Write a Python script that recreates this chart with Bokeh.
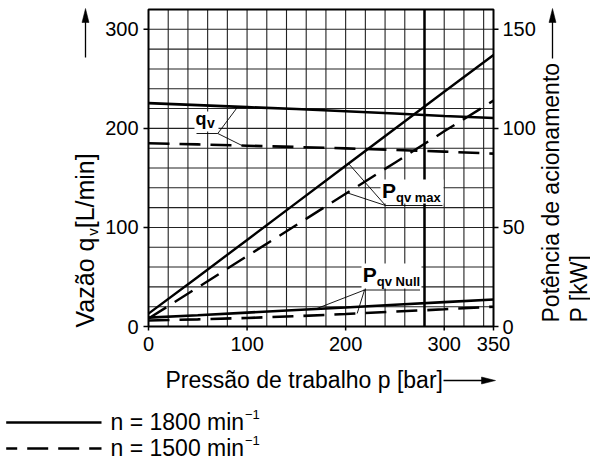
import math
import numpy as np
from bokeh.plotting import figure
from bokeh.models import Range1d
from bokeh.core.properties import value
from bokeh.embed import file_html
from bokeh.resources import INLINE

# Working pressure p [bar]
pressure = [0, 50, 100, 150, 200, 250, 300, 350]
# Flow q_v [L/min] at n = 1800 and n = 1500 min^-1
qv_1800 = [225.5, 223.5, 221.5, 219.5, 217.3, 215.0, 212.5, 210.4]
qv_1500 = [185.0, 183.8, 182.5, 181.2, 179.8, 178.3, 176.5, 174.5]
# Drive power at maximum displacement [kW]
pmax_1800 = [6.5, 25.0, 43.7, 62.4, 81.1, 99.8, 118.5, 137.0]
pmax_1500 = [4.0, 19.7, 35.5, 51.2, 67.0, 82.7, 98.5, 114.0]
# Drive power at zero displacement [kW]
pnull_1800 = [4.5, 5.7, 7.0, 8.3, 9.6, 11.0, 12.3, 13.6]
pnull_1500 = [3.0, 3.6, 4.3, 5.2, 6.3, 7.5, 8.7, 10.0]

pressure_ticks = [0, 100, 200, 300, 350]
flow_ticks = [0, 100, 200, 300]
power_ticks = [0, 50, 100, 150]
marked_pressure = 280

P_MAX, FLOW_MAX, POWER_MAX = 350, 320, 160
FONT = "Liberation Sans"
DASH = "21 10"

# chart frame placement on the 590 x 459 canvas
FL, FR, FT, FB = 148, 493, 9, 326
W, H = 590, 459


def bx(px):
    return (px - FL) * P_MAX / (FR - FL)


def by(py):
    return (FB - py) * FLOW_MAX / (FB - FT)


kw_to_flow = FLOW_MAX / POWER_MAX

# the drawing area spans the whole canvas; the scales put 0..350 bar and
# 0..320 L/min (0..160 kW) onto the chart frame
p = figure(width=W, height=H, output_backend="svg", toolbar_location=None,
           x_range=Range1d(bx(0), bx(W)), y_range=Range1d(by(H), by(0)),
           x_axis_type=None, y_axis_type=None, min_border=0)
p.extra_y_ranges = {"power": Range1d(by(H) / kw_to_flow, by(0) / kw_to_flow)}
p.outline_line_color = None
p.background_fill_color = "white"
p.border_fill_color = "white"
p.grid.visible = False

MID = 0.35  # distance from baseline to the middle of the capitals, in em


def text(s, px, py, size, bold=False, angle=0.0):
    """Text starting at (px, py), where py (or px for upright text) is the baseline."""
    if angle:
        ax, ay = px - MID * size, py
    else:
        ax, ay = px, py - MID * size
    p.text(x=[bx(ax)], y=[by(ay)], text=[s], text_font=value(FONT),
           text_font_size=value(f"{size}px"),
           text_font_style=value("bold" if bold else "normal"), text_color="black",
           angle=angle, text_align=value("left"), text_baseline=value("middle"))


# grid: every 20 bar and every 20 L/min
grid_x = list(range(20, P_MAX, 20))
grid_y = list(range(20, FLOW_MAX, 20))
p.segment(grid_x, [0] * len(grid_x), grid_x, [FLOW_MAX] * len(grid_x),
          line_color="#222222", line_width=1.1)
p.segment([0] * len(grid_y), grid_y, [P_MAX] * len(grid_y), grid_y,
          line_color="#222222", line_width=1.1)
p.segment([marked_pressure], [0], [marked_pressure], [FLOW_MAX], line_color="black", line_width=2.5)

# white backing behind the curve labels
box_l, box_r, box_t, box_b = [194, 380, 361], [218, 443, 421], [111, 179, 263], [131, 203, 288]
p.quad(left=[bx(v) for v in box_l], right=[bx(v) for v in box_r],
       top=[by(v) for v in box_t], bottom=[by(v) for v in box_b],
       fill_color="white", line_color=None)

# characteristic curves
p.line(pressure, qv_1800, line_color="black", line_width=2.6)
p.line(pressure, qv_1500, line_color="black", line_width=2.6, line_dash=DASH)
p.line(pressure, pmax_1800, line_color="black", line_width=2.4, y_range_name="power")
p.line(pressure, pmax_1500, line_color="black", line_width=2.4, line_dash=DASH, y_range_name="power")
p.line(pressure, pnull_1800, line_color="black", line_width=2.6, y_range_name="power")
p.line(pressure, pnull_1500, line_color="black", line_width=2.6, line_dash=DASH, y_range_name="power")

# leader lines and underlines of the curve labels
lead_x0, lead_y0, lead_x1, lead_y1 = [], [], [], []


def leader(px0, py0, x_val, curve, scale=1.0):
    lead_x0.append(bx(px0))
    lead_y0.append(by(py0))
    lead_x1.append(x_val)
    lead_y1.append(float(np.interp(x_val, pressure, curve)) * scale)


def underline(px0, px1, py):
    lead_x0.append(bx(px0))
    lead_y0.append(by(py))
    lead_x1.append(bx(px1))
    lead_y1.append(by(py))


underline(196, 217.3, 133)
leader(217.3, 133, 90.6, qv_1800)
leader(217.3, 133, 95.0, qv_1500)
underline(385, 442, 205)
leader(385, 205, 203.0, pmax_1800, kw_to_flow)
leader(385, 205, 201.5, pmax_1500, kw_to_flow)
underline(363, 419.5, 289.5)
leader(364, 289.5, 169.4, pnull_1800, kw_to_flow)
leader(364, 289.5, 211.7, pnull_1500, kw_to_flow)
p.segment(lead_x0, lead_y0, lead_x1, lead_y1, line_color="black", line_width=0.9)

# chart frame
p.quad(left=[0], right=[P_MAX], bottom=[0], top=[FLOW_MAX], fill_color=None,
       line_color="black", line_width=2)

# axes: ticks and tick labels
n = len(flow_ticks)
p.segment([bx(143)] * n, flow_ticks, [0] * n, flow_ticks, line_color="black", line_width=1.5)
p.text(x=[bx(138)] * n, y=flow_ticks, text=[str(t) for t in flow_ticks], text_font=value(FONT),
       text_font_size=value("20px"), text_color="black", text_align=value("right"),
       text_baseline=value("middle"))
n = len(pressure_ticks)
p.segment(pressure_ticks, [0] * n, pressure_ticks, [by(330)] * n, line_color="black", line_width=1.5)
p.text(x=pressure_ticks, y=[by(336)] * n, text=[str(t) for t in pressure_ticks],
       text_font=value(FONT), text_font_size=value("20px"), text_color="black",
       text_align=value("center"), text_baseline=value("top"))
n = len(power_ticks)
p.segment([P_MAX] * n, power_ticks, [bx(498)] * n, power_ticks, line_color="black",
          line_width=1.5, y_range_name="power")
p.text(x=[bx(502)] * n, y=power_ticks, text=[str(t) for t in power_ticks], text_font=value(FONT),
       text_font_size=value("20px"), text_color="black", text_align=value("left"),
       text_baseline=value("middle"), y_range_name="power")


def arrow_up(px, py0, py1, head=14, half=3.5):
    p.segment([bx(px)], [by(py0)], [bx(px)], [by(py1 + head - 1)], line_color="black", line_width=1.3)
    p.patch([bx(px), bx(px + half), bx(px - half)], [by(py1), by(py1 + head), by(py1 + head)],
            fill_color="black", line_color="black", line_width=0.5)


def arrow_right(px0, px1, py, head=14, half=3.5):
    p.segment([bx(px0)], [by(py)], [bx(px1 - head + 1)], [by(py)], line_color="black", line_width=1.3)
    p.patch([bx(px1), bx(px1 - head), bx(px1 - head)], [by(py), by(py - half), by(py + half)],
            fill_color="black", line_color="black", line_width=0.5)


# curve labels
text("q", 195, 124.3, 18, bold=True)
text("v", 206.5, 127.5, 14, bold=True)
text("P", 381.5, 197.5, 21, bold=True)
text("qv max", 395.5, 201.5, 13, bold=True)
text("P", 362.3, 281.7, 21, bold=True)
text("qv Null", 376.3, 285.5, 13, bold=True)

# left axis title with subscript and arrow
up = math.pi / 2
text("Vazão q", 93, 327, 25, angle=up)
text("v", 97, 235.3, 15, angle=up)
text(" [L/min]", 93, 227.8, 25, angle=up)
arrow_up(85, 57, 8)

# right axis title (two lines) and arrow
text("Potência de acionamento", 559, 322, 23, angle=up)
text("P [kW]", 587, 322, 23, angle=up)
arrow_up(552, 58, 8)

# bottom axis title and arrow
text("Pressão de trabalho p [bar]", 165, 388, 23)
arrow_right(443, 495, 380)

# line-style key
p.segment([bx(5.7)], [by(422)], [bx(101)], [by(422)], line_color="black", line_width=2.6)
text("n = 1800 min", 110, 429.5, 23)
text("\u22121", 244.5, 419, 13)
p.segment([bx(5.7)], [by(448)], [bx(101)], [by(448)], line_color="black", line_width=2.6,
          line_dash=DASH, line_dash_offset=10)
text("n = 1500 min", 110, 455.5, 23)
text("\u22121", 244.5, 445, 13)

with open("out.html", "w", encoding="utf-8") as f:
    f.write(file_html(p, INLINE))
